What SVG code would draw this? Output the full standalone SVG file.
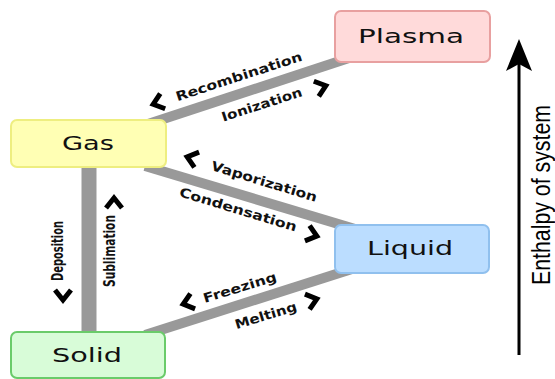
<svg xmlns="http://www.w3.org/2000/svg" xmlns:xlink="http://www.w3.org/1999/xlink" width="555" height="379" viewBox="0 0 555 379">
<style>
.box{stroke-width:2}
.name{font-family:"DejaVu Sans","Liberation Sans",sans-serif;font-size:20px;fill:#111;text-anchor:middle}
.lbl{font-family:"DejaVu Sans","Liberation Sans",sans-serif;font-size:13px;font-weight:bold;fill:#111;text-anchor:middle}
.conn{stroke:#999;stroke-width:10;fill:none}
</style>
<defs>
<path id="chev" d="M6,-8 L-4,0 L6,8" fill="none" stroke="#000" stroke-width="5" stroke-linejoin="miter"/>
</defs>
<rect width="555" height="379" fill="#fff"/>
<g id="connectors">
<line class="conn" x1="145" y1="125" x2="355" y2="56"/>
<line class="conn" x1="145" y1="166" x2="355" y2="229"/>
<line class="conn" x1="145" y1="335" x2="355" y2="268"/>
<line class="conn" x1="89" y1="160" x2="89" y2="340" style="stroke-width:15"/>
</g>
<g id="labels">
<text class="lbl" transform="translate(239,77) rotate(-18)" y="4" textLength="132" lengthAdjust="spacingAndGlyphs">Recombination</text>
<use xlink:href="#chev" transform="translate(157,103) rotate(-18)"/>
<text class="lbl" transform="translate(262,105) rotate(-18)" y="4" textLength="84" lengthAdjust="spacingAndGlyphs">Ionization</text>
<use xlink:href="#chev" transform="translate(322,87) rotate(-18) scale(-1,1)"/>
<text class="lbl" transform="translate(264,182) rotate(17)" y="4" textLength="110" lengthAdjust="spacingAndGlyphs">Vaporization</text>
<use xlink:href="#chev" transform="translate(191,158) rotate(17)"/>
<text class="lbl" transform="translate(238,210) rotate(17)" y="4" textLength="122" lengthAdjust="spacingAndGlyphs">Condensation</text>
<use xlink:href="#chev" transform="translate(313,235) rotate(17) scale(-1,1)"/>
<text class="lbl" transform="translate(240,288) rotate(-17)" y="4" textLength="76" lengthAdjust="spacingAndGlyphs">Freezing</text>
<use xlink:href="#chev" transform="translate(187,303) rotate(-17)"/>
<text class="lbl" transform="translate(266,316) rotate(-17)" y="4" textLength="64" lengthAdjust="spacingAndGlyphs">Melting</text>
<use xlink:href="#chev" transform="translate(313,300) rotate(-17) scale(-1,1)"/>
<text class="lbl" transform="translate(57,251) rotate(-90)" y="6" style="font-size:16px" textLength="60" lengthAdjust="spacingAndGlyphs">Deposition</text>
<use xlink:href="#chev" transform="translate(63,296) rotate(-90)"/>
<text class="lbl" transform="translate(109,251) rotate(-90)" y="6" style="font-size:16px" textLength="72" lengthAdjust="spacingAndGlyphs">Sublimation</text>
<use xlink:href="#chev" transform="translate(114,202) rotate(-90) scale(-1,1)"/>
</g>
<g id="plasma">
<rect class="box" x="335" y="11" width="155" height="51" rx="6" fill="#ffdada" stroke="#e8a0a0"/>
<text class="name" x="411" y="43" textLength="106" lengthAdjust="spacingAndGlyphs">Plasma</text>
</g>
<g id="gas">
<rect class="box" x="11" y="120" width="155" height="47" rx="6" fill="#ffffb4" stroke="#eeee80"/>
<text class="name" x="88" y="150" textLength="52" lengthAdjust="spacingAndGlyphs">Gas</text>
</g>
<g id="liquid">
<rect class="box" x="335" y="225" width="154" height="48" rx="6" fill="#bbddff" stroke="#90c0ee"/>
<text class="name" x="410" y="255" textLength="86" lengthAdjust="spacingAndGlyphs">Liquid</text>
</g>
<g id="solid">
<rect class="box" x="11" y="332" width="154" height="46" rx="6" fill="#d8fcd8" stroke="#6acb6a"/>
<text class="name" x="87" y="362" textLength="70" lengthAdjust="spacingAndGlyphs">Solid</text>
</g>
<g id="enthalpy">
<line x1="519" y1="355" x2="519" y2="60" stroke="#000" stroke-width="3"/>
<path d="M519,39 L532,71 L519,64 L506,71 Z" fill="#000"/>
<text transform="translate(550,195) rotate(-90)" style="font-family:'Liberation Sans',sans-serif;font-size:26px;fill:#000;text-anchor:middle" textLength="180" lengthAdjust="spacingAndGlyphs">Enthalpy of system</text>
</g>
</svg>
